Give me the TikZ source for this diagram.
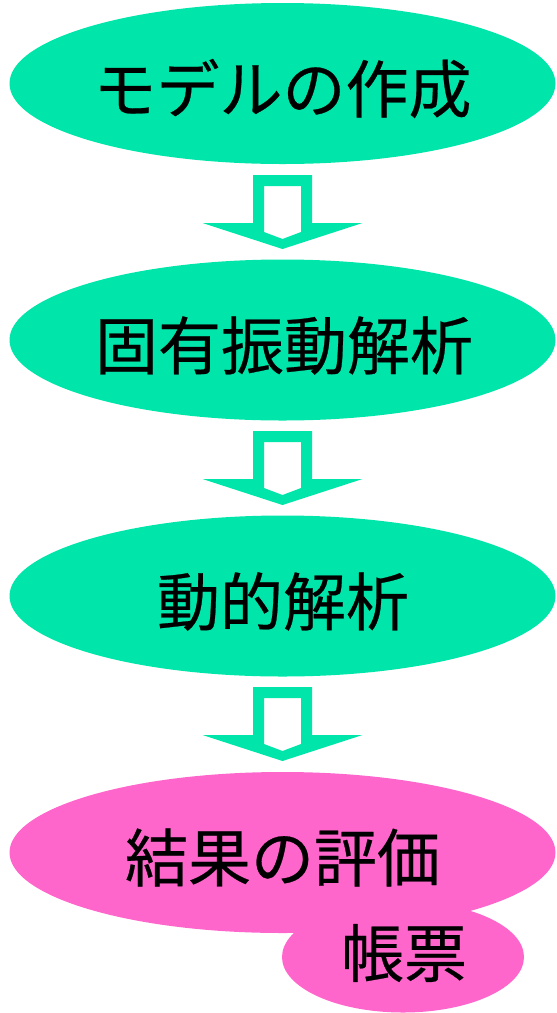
\documentclass[tikz,border=0pt]{standalone}
\usepackage{fontspec}
\newfontfamily\jpfont[FakeBold=0.4]{Noto Sans CJK JP}
\usetikzlibrary{shapes.geometric}
\definecolor{flowgreen}{RGB}{0,230,170}
\definecolor{flowpink}{RGB}{255,102,204}
\tikzset{
  bigell/.style={ellipse, draw=none, inner sep=0pt, minimum width=546pt, minimum height=161pt},
  smallell/.style={ellipse, draw=none, inner sep=0pt, fill=flowpink, minimum width=242pt, minimum height=111pt},
  lbl/.style={inner sep=0pt, font=\jpfont\fontsize{63}{63}\selectfont, text=black},
  blockarrow/.pic={
    \fill[flowgreen, even odd rule]
      (-29.5,0) -- (29.5,0) -- (29.5,48) -- (80,48) -- (0,74) -- (-80,48) -- (-29.5,48) -- cycle
      (-18.5,11) -- (18.5,11) -- (18.5,57) -- (0,64) -- (-18.5,57) -- cycle;
  }
}
\begin{document}
\begin{tikzpicture}[x=1pt,y=-1pt]
\useasboundingbox (0,0) rectangle (557,1013);
% ellipses
\node[bigell, fill=flowgreen] (e1) at (282.5,83.5) {};
\node[bigell, fill=flowgreen] (e2) at (282.5,340) {};
\node[bigell, fill=flowgreen] (e3) at (282.5,596) {};
\node[bigell, fill=flowpink] (e4) at (282.5,852.5) {};
\node[smallell] (e5) at (403,957) {};
% block arrows
\pic (a1) at (282.5,175) {blockarrow};
\pic (a2) at (282.5,431) {blockarrow};
\pic (a3) at (282.5,687) {blockarrow};
% labels
\node[lbl] (t1) at (282.5,88.5) {モデルの作成};
\node[lbl] (t2) at (284,345.5) {固有振動解析};
\node[lbl] (t3) at (283,601.5) {動的解析};
\node[lbl] (t4) at (282.5,857.5) {結果の評価};
\node[lbl] (t5) at (404,953) {帳票};
\end{tikzpicture}
\end{document}
